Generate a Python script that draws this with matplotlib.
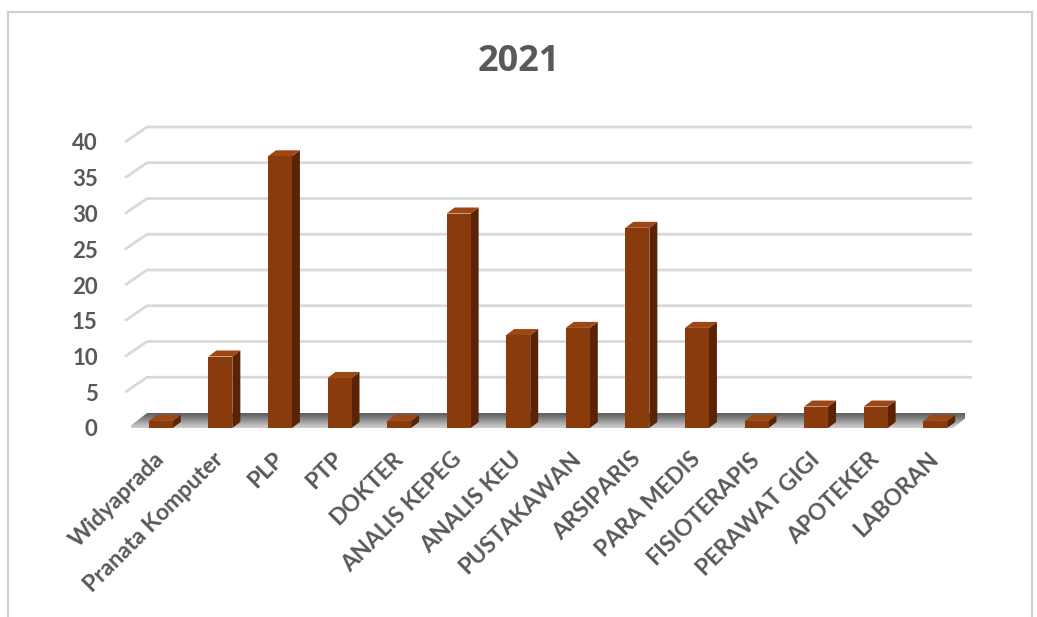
import matplotlib.pyplot as plt
import numpy as np
from matplotlib.patches import Polygon, Rectangle

# Data
categories = ["Widyaprada", "Pranata Komputer", "PLP", "PTP", "DOKTER",
              "ANALIS KEPEG", "ANALIS KEU", "PUSTAKAWAN", "ARSIPARIS",
              "PARA MEDIS", "FISIOTERAPIS", "PERAWAT GIGI", "APOTEKER", "LABORAN"]
values = [1, 10, 38, 7, 1, 30, 13, 14, 28, 14, 1, 3, 3, 1]
y_ticks = [0, 5, 10, 15, 20, 25, 30, 35, 40]
title = "2021"

W, H = 1037, 617
FRONT = "#8A3B0C"
SIDE = "#5A2306"
TOP = "#9C4714"
GRID = "#D9D9D9"
TEXT = "#595959"
FONT = "Lato"

fig = plt.figure(figsize=(W / 100, H / 100), dpi=100)
fig.patch.set_facecolor("white")

# outer chart frame
fig.add_artist(Rectangle((8 / W, -0.02), 1024 / W, 1 - 12 / H + 0.02,
                         transform=fig.transFigure, fill=False,
                         edgecolor="#D0D0D0", linewidth=1.6))

# plot area: x=-0.5 -> 131px, x=13.5 -> 965px, y=0 -> 428px, y=40 -> 142px
ax = fig.add_axes([131 / W, (H - 428) / H, (965 - 131) / W, (428 - 142) / H])
n = len(categories)
ax.set_xlim(-0.5, n - 0.5)
ax.set_ylim(0, 40)
ax.set_facecolor("none")
for s in ax.spines.values():
    s.set_visible(False)

# pixel -> data unit conversions
px_x = (965 - 131) / n
px_y = (428 - 142) / 40.0

# depth of floor/back wall and of bars
wdx, wdy = 22 / px_x, 15 / px_y
bdx, bdy = 8 / px_x, 6 / px_y
bw = 24 / px_x

x0, x1 = -0.6, n - 0.75

# floor with gradient (darker at the back)
floor = Polygon([(x0, -0.3), (x1, -0.3), (x1 + wdx, wdy), (x0 + wdx, wdy)],
                closed=True, facecolor="none", edgecolor="none")
ax.add_patch(floor)
grad = np.linspace(0, 1, 50).reshape(-1, 1)
im = ax.imshow(grad, cmap="Greys", vmin=-0.5, vmax=1.6, aspect="auto",
               extent=(x0, x1 + wdx, -0.3, wdy), origin="lower", zorder=1)
im.set_clip_path(floor)

# gridlines on back wall
for v in y_ticks[1:]:
    ax.plot([x0, x0 + wdx, x1 + wdx], [v, v + wdy, v + wdy], color=GRID,
            linewidth=2, zorder=2, clip_on=False, solid_capstyle="butt")

# 3D bars
for i, v in enumerate(values):
    l, r = i - bw / 2, i + bw / 2
    ax.add_patch(Polygon([(r, 0), (r + bdx, bdy), (r + bdx, v + bdy), (r, v)],
                         facecolor=SIDE, edgecolor="none", zorder=3, clip_on=False))
    ax.add_patch(Polygon([(l, v), (r, v), (r + bdx, v + bdy), (l + bdx, v + bdy)],
                         facecolor=TOP, edgecolor="none", zorder=3, clip_on=False))
    ax.add_patch(Rectangle((l, 0), bw, v, facecolor=FRONT, edgecolor="none",
                           zorder=4, clip_on=False))

ax.set_yticks(y_ticks)
ax.set_yticklabels([str(t) for t in y_ticks], fontsize=16, fontweight="bold",
                   color=TEXT, family=FONT)
ax.tick_params(axis="y", length=0, pad=24)

ax.set_xticks(np.arange(n))
ax.set_xticklabels(categories, rotation=45, ha="right", va="center",
                   rotation_mode="anchor", fontsize=16.5, fontweight="bold",
                   color=TEXT, family=FONT)
ax.tick_params(axis="x", length=0, pad=20)

fig.text(0.5, 1 - 62 / H, title, ha="center", va="center", fontsize=26,
         fontweight="bold", color=TEXT, family="Open Sans")

fig.savefig("out.png", dpi=100)
